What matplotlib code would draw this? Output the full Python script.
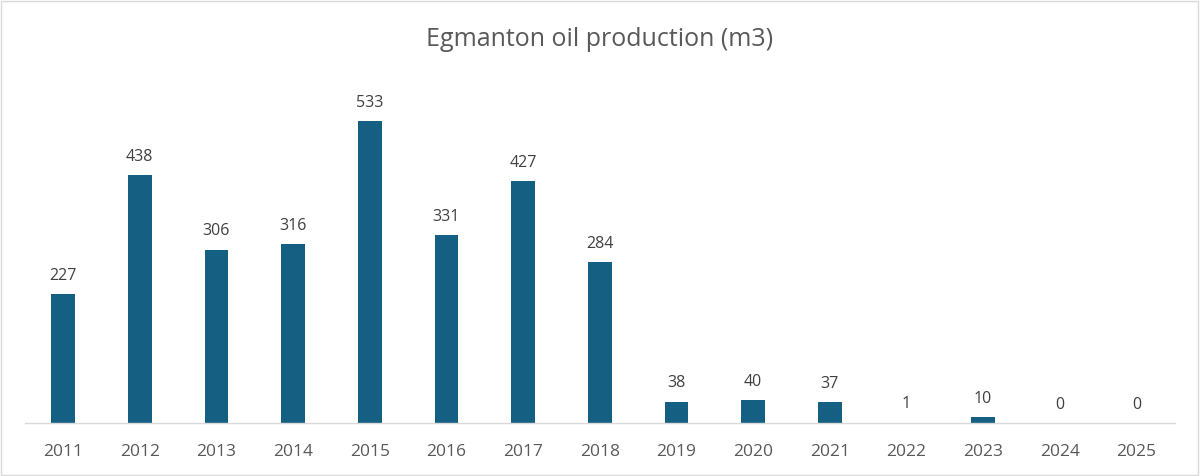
import matplotlib
matplotlib.use("Agg")
import matplotlib.pyplot as plt
from matplotlib.patches import Rectangle

years = ["2011", "2012", "2013", "2014", "2015", "2016", "2017", "2018",
         "2019", "2020", "2021", "2022", "2023", "2024", "2025"]
production = [227, 438, 306, 316, 533, 331, 427, 284, 38, 40, 37, 1, 10, 0, 0]

plt.rcParams['font.family'] = ['Open Sans', 'DejaVu Sans']

fig = plt.figure(figsize=(12, 4.76), dpi=100)
ax = fig.add_axes([0.0206, 0.111, 0.9584, 0.715])

x = range(len(years))
bars = ax.bar(x, production, width=0.31, color="#156082", zorder=2)
for xi, v in zip(x, production):
    ax.text(xi, v + 18, f"{v}", ha="center", va="bottom", fontsize=11.5, color="#404040")

ax.set_xlim(-0.5, len(years) - 0.5)
ax.set_ylim(0, 600)
ax.set_xticks(list(x))
ax.set_xticklabels(years, fontsize=12.5, color="#595959")
ax.tick_params(axis="x", length=0, pad=15)
ax.set_yticks([])
for s in ["top", "right", "left"]:
    ax.spines[s].set_visible(False)
ax.spines["bottom"].set_color("#d9d9d9")
ax.spines["bottom"].set_linewidth(1.0)

fig.text(0.5, 0.918, "Egmanton oil production (m3)", ha="center", va="center",
         fontsize=18, color="#595959")

fig.patches.append(Rectangle((0.001, 0.002), 0.997, 0.995, transform=fig.transFigure,
                             fill=False, edgecolor="#d9d9d9", linewidth=1.0))

fig.savefig("out.png", dpi=100)
